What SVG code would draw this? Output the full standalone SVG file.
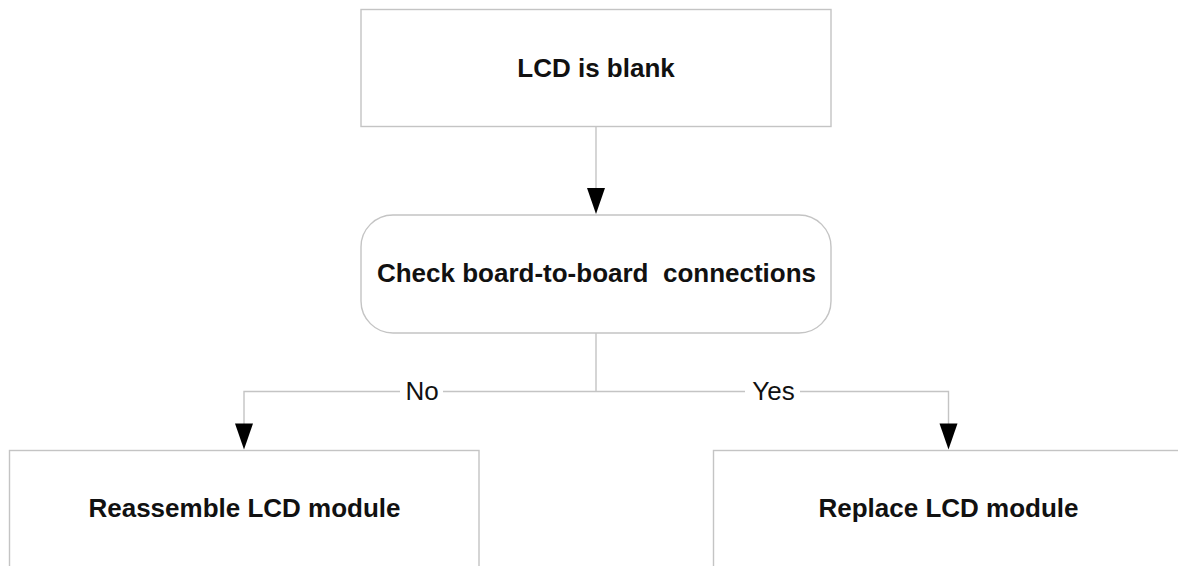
<svg xmlns="http://www.w3.org/2000/svg" width="1178" height="566" viewBox="0 0 1178 566">
<defs>
<style>
.box{fill:#fff;stroke:#c4c4c4;stroke-width:1.4}
.t{font-family:"Liberation Sans",Arial,sans-serif;font-weight:bold;font-size:26px;fill:#111;text-anchor:middle}
.lbl{font-family:"Liberation Sans",Arial,sans-serif;font-size:26px;fill:#111;text-anchor:middle}
.c{fill:none;stroke:#c4c4c4;stroke-width:1.4}
.ah{fill:#000}
</style>
</defs>
<rect width="1178" height="566" fill="#fff"/>
<g id="connectors">
<path class="c" d="M596,126.5 V189"/>
<path class="ah" d="M587,188 L605,188 L596,214 Z"/>
<path class="c" d="M596,333 V391.5 M596,391.5 H443 M400,391.5 H244 V424"/>
<path class="ah" d="M235,423.5 L253,423.5 L244,449.5 Z"/>
<path class="c" d="M596,391.5 H745 M800,391.5 H948.5 V424"/>
<path class="ah" d="M939.5,423.5 L957.5,423.5 L948.5,449.5 Z"/>
<text class="lbl" x="422" y="400">No</text>
<text class="lbl" x="773.5" y="400">Yes</text>
</g>
<g id="node-lcd-blank">
<rect class="box" x="361" y="9.5" width="470" height="117"/>
<text class="t" x="596" y="77">LCD is blank</text>
</g>
<g id="node-check">
<rect class="box" x="361" y="215" width="470" height="118" rx="32" ry="32"/>
<text class="t" x="596.5" y="282" xml:space="preserve">Check board-to-board  connections</text>
</g>
<g id="node-reassemble">
<rect class="box" x="9.5" y="450.5" width="469.5" height="130"/>
<text class="t" x="244.5" y="517">Reassemble LCD module</text>
</g>
<g id="node-replace">
<rect class="box" x="713.5" y="450.5" width="470" height="130"/>
<text class="t" x="948.5" y="517">Replace LCD module</text>
</g>
</svg>
